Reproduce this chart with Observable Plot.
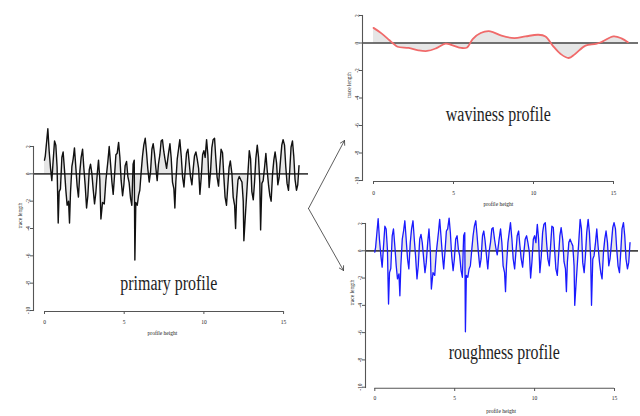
<!DOCTYPE html>
<html><head><meta charset="utf-8">
<script src="https://cdn.jsdelivr.net/npm/d3@7"></script>
<script src="https://cdn.jsdelivr.net/npm/@observablehq/plot@0.6"></script>
<style>
body{margin:0;background:#fff;}
#wrap{position:relative;width:640px;height:416px;overflow:hidden;background:#fff;}
#wrap > svg{position:absolute;}
</style></head><body><div id="wrap"></div>
<script>
// ---- data ----
const roughX = [0,0.05,0.21,0.29,0.38,0.46,0.54,0.63,0.71,0.79,
0.86,0.92,1.0,1.09,1.17,1.26,1.34,1.42,1.51,1.57,
1.63,1.72,1.8,1.88,1.97,2.05,2.13,2.22,2.3,2.39,
2.47,2.55,2.64,2.72,2.81,2.89,2.97,3.06,3.14,3.22,
3.31,3.39,3.47,3.54,3.64,3.75,3.85,3.98,4.06,4.14,
4.23,4.31,4.39,4.48,4.56,4.65,4.73,4.81,4.9,4.98,
5.06,5.15,5.23,5.31,5.4,5.48,5.56,5.63,5.67,5.73,
5.82,5.9,5.98,6.07,6.15,6.23,6.32,6.4,6.48,6.57,
6.65,6.74,6.82,6.9,6.99,7.07,7.15,7.24,7.32,7.4,
7.49,7.57,7.66,7.78,7.87,7.95,8.03,8.12,8.18,8.24,
8.33,8.41,8.49,8.58,8.66,8.75,8.83,8.91,9.0,9.08,
9.16,9.25,9.33,9.41,9.5,9.58,9.67,9.75,9.83,9.92,
10.0,10.08,10.17,10.25,10.33,10.42,10.5,10.58,10.67,10.75,
10.83,10.92,11.0,11.08,11.17,11.25,11.33,11.42,11.5,11.58,
11.66,11.76,11.84,11.93,11.99,12.05,12.14,12.22,12.3,12.39,
12.47,12.51,12.6,12.68,12.76,12.85,12.93,13.01,13.1,13.18,
13.26,13.35,13.43,13.51,13.56,13.64,13.72,13.81,13.89,13.97,
14.06,14.14,14.22,14.31,14.39,14.47,14.56,14.64,14.72,14.81,
14.89,14.97,15.06,15.14,15.22,15.31,15.39,15.47,15.56,15.64,
15.72,15.81,15.89,15.97];

const roughY = [-0.1,0.24,2.35,0.85,-0.36,-1.2,0.24,1.8,1.6,0.1,
-3.9,-1.6,-1.3,1.1,1.6,0.24,-1.1,-2.06,-1.7,-3.3,
-1.1,0.85,1.45,2.2,0.73,-0.6,-1.33,0.6,1.6,2.2,
0.85,-0.36,-2.06,-1.1,0.85,1.2,0.6,-0.6,-1.6,-0.85,
0.6,1.6,0.1,-2.8,-1.6,-1.8,-0.1,1.3,2.3,1.1,
-0.36,-1.33,-0.1,1.45,1.6,2.4,1.3,-0.36,-1.45,-0.6,
0.85,1.1,0.1,-0.36,-1.45,-1.94,1.1,1.33,-5.94,-1.8,
-1.94,-1.33,-1.1,0.1,1.1,1.8,2.2,1.1,-0.1,-1.2,
-0.6,1.1,1.45,0.73,-0.36,-1.33,-0.1,0.6,1.6,1.7,
0.85,0.24,-0.3,0.85,1.6,0.6,-1.1,-1.6,-3.0,-1.1,
0.6,1.33,2.06,0.85,-0.6,-1.33,-0.1,1.1,1.45,0.36,
-0.6,-1.2,-0.1,0.85,1.1,0.6,-0.1,-2.0,-0.85,0.85,
1.1,0.6,1.94,0.85,-1.6,-0.36,1.33,1.94,2.06,0.6,
-0.6,-1.1,0.36,1.8,1.7,0.1,-1.33,-1.8,-0.36,1.1,
1.7,0.8,-0.8,-1.33,-3.0,-0.85,0.6,0.85,0.6,0.36,
-1.1,-4.0,-2.3,-0.85,0.6,2.3,1.6,-0.85,-1.6,-0.36,
1.33,2.3,1.33,-0.6,-4.0,-0.6,-0.36,0.6,1.6,0.36,
-0.85,-1.6,-2.06,-0.1,0.85,1.45,0.6,-1.1,-0.6,0.6,
1.7,2.06,1.6,0.1,-1.1,-1.6,-0.1,1.6,2.06,1.1,
-0.6,-1.33,-0.85,0.6];

const primaryY = [1.0,1.3,3.3,1.7,0.4,-0.5,0.9,2.4,2.1,0.5,
-3.6,-1.3,-1.1,1.2,1.6,0.2,-1.2,-2.3,-2.0,-3.6,
-1.4,0.55,1.1,1.9,0.4,-0.9,-1.7,0.2,1.2,1.8,
0.4,-0.8,-2.5,-1.6,0.3,0.7,0.05,-1.2,-2.2,-1.4,
0.0,1.0,-0.4,-3.3,-2.1,-2.2,-0.5,0.95,2.0,0.8,
-0.6,-1.5,-0.2,1.4,1.5,2.3,1.2,-0.5,-1.6,-0.8,
0.6,0.9,-0.2,-0.65,-1.8,-2.3,0.7,1.0,-6.3,-2.1,
-2.3,-1.6,-1.2,0.2,1.3,2.1,2.6,1.6,0.4,-0.6,
0.1,1.8,2.2,1.5,0.4,-0.5,0.7,1.4,2.4,2.5,
1.6,1.0,0.4,1.5,2.2,1.15,-0.6,-1.1,-2.5,-0.6,
1.1,1.8,2.5,1.3,-0.2,-0.96,0.3,1.5,1.8,0.8,
-0.2,-0.8,0.35,1.3,1.6,1.1,0.4,-1.5,-0.3,1.4,
1.7,1.2,2.5,1.4,-1.0,0.2,1.9,2.5,2.6,1.1,
-0.24,-0.9,0.5,1.8,1.55,-0.15,-1.7,-2.3,-0.9,0.45,
0.95,0.0,-1.7,-2.3,-4.0,-1.85,-0.45,-0.2,-0.4,-0.6,
-2.0,-4.9,-3.1,-1.6,-0.05,1.7,1.1,-1.3,-1.9,-0.6,
1.1,2.1,1.2,-0.7,-4.1,-0.7,-0.5,0.5,1.5,0.3,
-0.85,-1.6,-2.0,0.0,1.0,1.6,0.8,-0.8,-0.3,1.0,
2.1,2.5,2.1,0.5,-0.7,-1.2,0.3,1.95,2.4,1.3,
-0.4,-1.2,-0.8,0.6];

const wavX = [0,0.5,1.0,1.2,1.5,2.2,2.8,3.35,3.9,4.5,4.9,5.5,5.85,6.2,6.7,7.3,8.0,8.8,9.5,10.3,10.75,11.2,11.7,12.2,12.6,13.25,13.9,14.3,15.0,15.5,15.9];
const wavY = [1.1,0.7,0.2,0.0,-0.27,-0.36,-0.53,-0.58,-0.39,-0.05,-0.15,-0.36,-0.32,0.29,0.73,0.85,0.53,0.36,0.48,0.6,0.48,-0.19,-0.8,-1.09,-0.8,-0.19,-0.07,0.1,0.48,0.34,0.05];

const xTicks = [0, 5, 10, 15];
const yTicks = [2, 0, -2, -4, -6, -8, -10];
const xLabel = "profile height";
const yLabel = "trace length";
const titles = ["primary profile", "waviness profile", "roughness profile"];

// arrows (page pixel coordinates)
const arrows = [
  {x1: 308, y1: 208, x2: 344, y2: 140},
  {x1: 308, y1: 208, x2: 343, y2: 270}
];

const wrap = document.getElementById("wrap");
const FONT = "'Liberation Serif', 'DejaVu Serif', serif";

function panel(o) {
  const data = o.xs.map((x, i) => ({x, y: o.ys[i]}));
  const svg = Plot.plot({
    width: o.width, height: o.height,
    marginLeft: o.mL, marginRight: o.mR, marginTop: o.mT, marginBottom: o.mB,
    x: {domain: [0, 16], range: o.xRange},
    y: {domain: [-10, 2], range: o.yRange},
    style: {fontFamily: FONT, background: "transparent", overflow: "visible", color: "#222"},
    marks: [
      Plot.areaY(data, {x: "x", y1: 0, y2: "y", fill: "#e6e6e6", curve: o.curve}),
      Plot.ruleY([0], {stroke: "#454545", strokeWidth: 1.7}),
      Plot.line(data, {x: "x", y: "y", stroke: o.color, strokeWidth: o.sw, curve: o.curve, strokeLinejoin: "round"}),
      Plot.frame({anchor: "left", stroke: "#555", strokeWidth: 1.1}),
      Plot.ruleY([yTicks[yTicks.length - 1]], {x1: xTicks[0], x2: xTicks[xTicks.length - 1], dy: 1, stroke: "#555", strokeWidth: 1.1}),
      Plot.axisY({ticks: yTicks, tickSize: 3, tickRotate: -90, tickPadding: 1, fontSize: 5.5, label: null, tickFormat: d => String(d), stroke: "#555"}),
      Plot.axisX({ticks: xTicks, tickSize: 3, tickPadding: o.tickPad, fontSize: 5.5, label: null, dy: 1, stroke: "#555"}),
      Plot.text([yLabel], {frameAnchor: "left", text: d => d, rotate: -90, dx: -13, fontSize: 5.5, fill: "#222"}),
      Plot.text([xLabel], {x: [o.xLabelX], frameAnchor: "bottom", dy: o.labelDy, text: d => d, fontSize: 5.5, fill: "#222"}),
      Plot.text([o.title], {x: [o.tx], y: [o.ty], text: d => d, fontSize: 20, fill: "#1e1e1e"})
    ]
  });
  d3.select(svg).selectAll("text").filter(function() { return this.textContent === o.title; })
    .attr("textLength", o.tLen).attr("lengthAdjust", "spacingAndGlyphs");
  svg.style.left = o.left + "px";
  svg.style.top = o.top + "px";
  wrap.appendChild(svg);
}

panel({xs: roughX, ys: primaryY, color: "#111", sw: 1.4, curve: "linear",
  title: titles[0], tx: 7.8, ty: -8.0, tLen: 97,
  left: 0, top: 120, width: 320, height: 220, mL: 33, mR: 12, mT: 26, mB: 30,
  xRange: [44, 299], yRange: [190, 26], tickPad: 5.5, labelDy: 24, xLabelX: 7.4});

panel({xs: wavX, ys: wavY, color: "#f06a6a", sw: 1.8, curve: "catmull-rom",
  title: titles[1], tx: 7.8, ty: -5.2, tLen: 105,
  left: 330, top: 0, width: 310, height: 215, mL: 32, mR: 2, mT: 15, mB: 35,
  xRange: [43, 299], yRange: [180, 15], tickPad: 6.5, labelDy: 25, xLabelX: 7.8});

panel({xs: roughX, ys: roughY, color: "#1a1aff", sw: 1.3, curve: "linear",
  title: titles[2], tx: 8.1, ty: -7.45, tLen: 111,
  left: 330, top: 210, width: 310, height: 206, mL: 35, mR: 2, mT: 13, mB: 29,
  xRange: [44.3, 300], yRange: [176.7, 13], tickPad: 4.5, labelDy: 25, xLabelX: 7.9});

// arrow overlay
const ov = Plot.plot({
  width: 640, height: 416, margin: 0,
  x: {domain: [0, 640], range: [0, 640], axis: null},
  y: {domain: [0, 416], range: [0, 416], axis: null},
  style: {background: "transparent", overflow: "visible"},
  marks: [
    Plot.arrow(arrows, {x1: "x1", y1: "y1", x2: "x2", y2: "y2", stroke: "#333", strokeWidth: 0.8, headLength: 9})
  ]
});
ov.style.left = "0px"; ov.style.top = "0px"; ov.style.pointerEvents = "none";
wrap.appendChild(ov);
</script></body></html>
